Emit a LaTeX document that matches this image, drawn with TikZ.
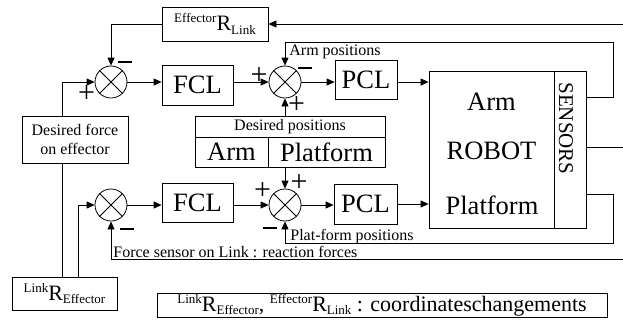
\documentclass[tikz,border=0pt]{standalone}
\usepackage{fontspec}
\setmainfont{Liberation Serif}
\usetikzlibrary{arrows.meta,calc}

% prescripted rotation symbol: ^{pre}R_{sub}
\newcommand{\rotsym}[2]{%
  {\fontsize{13}{13}\selectfont\raisebox{8pt}{#1}}%
  {\fontsize{22}{22}\selectfont R}%
  {\fontsize{13}{13}\selectfont\raisebox{-3.5pt}{#2}}}

\begin{document}
\begin{tikzpicture}[x=1pt,y=-1pt,
  line width=0.8pt,
  arr/.style={-{Triangle[length=8pt,width=7pt]}},
  box/.style={draw,rectangle,inner sep=0pt,align=center},
  sumnode/.style={draw,circle,minimum size=32pt,inner sep=0pt},
  big/.style={font=\fontsize{26.5}{30}\selectfont},
  mid/.style={font=\fontsize{16}{19.5}\selectfont},
  plussign/.style={inner sep=0pt,font=\fontsize{30}{30}\selectfont},
  minussign/.style={fill=black,draw=none,rectangle,inner sep=0pt,minimum width=14pt,minimum height=2.2pt}]

\useasboundingbox (0,0) rectangle (623,327);

% ---------- blocks ----------
\node[box,minimum width=106pt,minimum height=34pt] (effr) at (215,24) {\rotsym{Effector}{Link}};
\node[box,big,minimum width=71pt,minimum height=40pt] (fcl1) at (197.5,85) {FCL};
\node[box,big,minimum width=71pt,minimum height=39pt] (fcl2) at (197.5,202.5) {FCL};
\node[box,big,minimum width=62pt,minimum height=39pt] (pcl1) at (366,79.5) {PCL};
\node[box,big,minimum width=63pt,minimum height=40pt] (pcl2) at (365.5,204) {PCL};
\node[box,minimum width=125pt,minimum height=157pt] (robot) at (491.5,149.5) {};
\node[big] (rarm) at (491.5,102) {Arm};
\node[big] (rrobot) at (491.5,151) {ROBOT};
\node[big] (rplat) at (492,205) {Platform};
\node[box,minimum width=32pt,minimum height=157pt] (sens) at (570,149.5) {};
\node[rotate=-90,inner sep=0pt,font=\fontsize{21}{21}\selectfont] (senstxt) at (566,128.5) {SENSORS};

% desired positions table
\node[box,mid,minimum width=190pt,minimum height=21pt] (dphead) at (290,126.5) {Desired positions};
\node[box,big,minimum width=73pt,minimum height=30pt] (dparm) at (231.5,152) {Arm};
\node[box,big,minimum width=117pt,minimum height=30pt] (dpplat) at (326.5,152) {Platform};

\node[box,mid,minimum width=106pt,minimum height=47pt] (df) at (75,139.5) {Desired force\\on effector};
\node[box,minimum width=105pt,minimum height=33pt] (linkr) at (64.5,293.5) {\rotsym{Link}{Effector}};
\node[box,minimum width=450pt,minimum height=24pt] (legend) at (382,305)
  {\rotsym{Link}{Effector}{\fontsize{22}{22}\selectfont,\ }\rotsym{Effector}{Link}{\fontsize{22}{22}\selectfont\ : coordinateschangements}};

% ---------- summing junctions ----------
\foreach \n/\px/\py in {s1/111/82, s2/285/82, s3/111/205, s4/285/205}{
  \node[sumnode] (\n) at (\px,\py) {};
  \draw (\n.north west) -- (\n.south east) (\n.north east) -- (\n.south west);
}

% signs
\node[minussign] (m1) at (125,62) {};
\node[plussign] (p1) at (86.5,94.5) {+};
\node[plussign] (p2a) at (259,76) {+};
\node[minussign] (m2) at (304.5,68) {};
\node[plussign] (p2b) at (296.5,105.5) {+};
\node[minussign] (m3) at (126.5,229) {};
\node[plussign] (p4a) at (262.5,191) {+};
\node[plussign] (p4b) at (299,183) {+};
\node[minussign] (m4) at (270,228) {};

% ---------- labels ----------
\node[mid,anchor=base west,inner sep=0pt] (armpos) at (289,55) {Arm positions};
\node[mid,anchor=base west,inner sep=0pt] (platpos) at (290,240) {Plat-form positions};
\node[mid,anchor=base west,inner sep=0pt] (forcelbl) at (113,257) {Force sensor on Link : reaction forces};

% ---------- free ends and corners ----------
\coordinate (topin) at (623,24);
\coordinate (midout) at (623,147);
\coordinate (forcein) at (623,259);
\coordinate (armc) at (613,97);
\coordinate (armtop) at (613,42);
\coordinate (platc) at (613,194);
\coordinate (platbot) at (613,243);
\coordinate (lx) at (62,0);
\coordinate (lx2) at (78,0);

% ---------- connectors ----------
\draw[arr] (topin) -- (effr.east);
\draw[arr] (effr.west) -| (s1.north);
\draw[arr] (df.north -| lx) |- (s1.west);
\draw (df.south -| lx) -- (linkr.north -| lx);
\draw[arr] (s1.east) -- (fcl1.west |- s1.east);
\draw[arr] (fcl1.east |- s2.west) -- (s2.west);
\draw[arr] (s2.east) -- (pcl1.west |- s2.east);
\draw[arr] (pcl1.east |- s2.east) -- (robot.west |- s2.east);
\draw[arr] (sens.east |- armc) -| (armtop) -| (s2.north);
\draw[arr] (s2 |- dphead.north) -- (s2.south);
\draw[arr] (s4 |- dpplat.south) -- (s4.north);
\draw (sens.east |- midout) -- (midout);
\draw[arr] (sens.east |- platc) -| (platbot) -| (s4.south);
\draw[arr] (linkr.north -| lx2) |- (s3.west);
\draw[arr] (s3.east) -- (fcl2.west |- s3.east);
\draw[arr] (fcl2.east |- s4.west) -- (s4.west);
\draw[arr] (s4.east) -- (pcl2.west |- s4.east);
\draw[arr] (pcl2.east) -- (robot.west |- pcl2.east);
\draw[arr] (forcein) -| (s3.south);

\end{tikzpicture}
\end{document}
